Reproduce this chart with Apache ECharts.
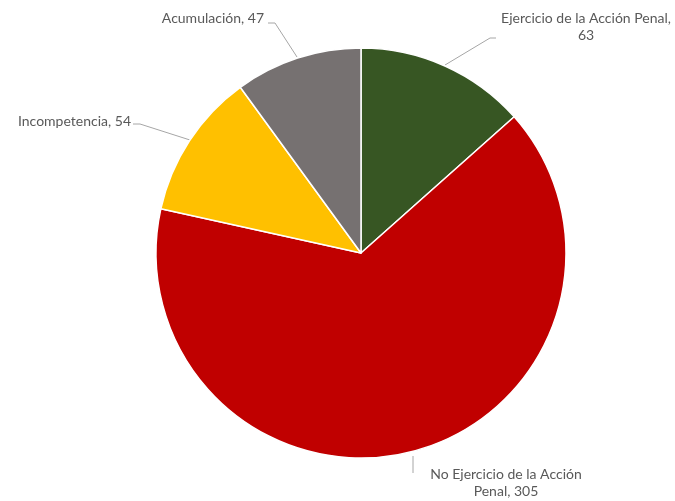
<!DOCTYPE html>
<html><head><meta charset="utf-8">
<script src="https://cdn.jsdelivr.net/npm/echarts@6/dist/echarts.min.js"></script>
<style>html,body{margin:0;padding:0;background:#fff}#c{width:675px;height:501px}</style>
</head><body><div id="c"></div>
<script>
const categories = ['Ejercicio de la Acción Penal', 'No Ejercicio de la Acción Penal', 'Incompetencia', 'Acumulación'];
const values = [63, 305, 54, 47];
const labelTexts = ['Ejercicio de la Acción Penal,\n63', 'No Ejercicio de la Acción\nPenal, 305', 'Incompetencia, 54', 'Acumulación, 47'];
const colors = ['#375623', '#C00000', '#FFC000', '#767171'];

const layouts = [
  {x: 586, y: 27, align: 'center', verticalAlign: 'middle', pts: [[445, 65], [490, 38], [496, 38]]},
  {x: 506, y: 483, align: 'center', verticalAlign: 'middle', pts: [[413, 456], [413, 473], [413, 473]]},
  {x: 131, y: 121, align: 'right', verticalAlign: 'middle', pts: [[190, 140], [140, 124], [133, 124]]},
  {x: 264, y: 18, align: 'right', verticalAlign: 'middle', pts: [[297, 57], [275, 23], [268, 23]]}
];

const chart = echarts.init(document.getElementById('c'));
chart.setOption({
  animation: false,
  series: [{
    type: 'pie',
    center: [361, 253],
    radius: [0, 205],
    startAngle: 90,
    clockwise: true,
    data: categories.map((c, i) => ({name: c, value: values[i], itemStyle: {color: colors[i]}})),
    itemStyle: {borderColor: '#fff', borderWidth: 1.5},
    label: {
      show: true,
      formatter: p => labelTexts[p.dataIndex],
      fontFamily: 'Lato',
      fontSize: 14,
      color: '#595959',
      lineHeight: 17,
      align: 'center'
    },
    labelLine: {show: true, lineStyle: {color: '#A6A6A6', width: 1}},
    labelLayout: function (p) {
      const l = layouts[p.dataIndex];
      return {x: l.x, y: l.y, align: l.align, verticalAlign: l.verticalAlign, labelLinePoints: l.pts};
    }
  }]
});
</script></body></html>
